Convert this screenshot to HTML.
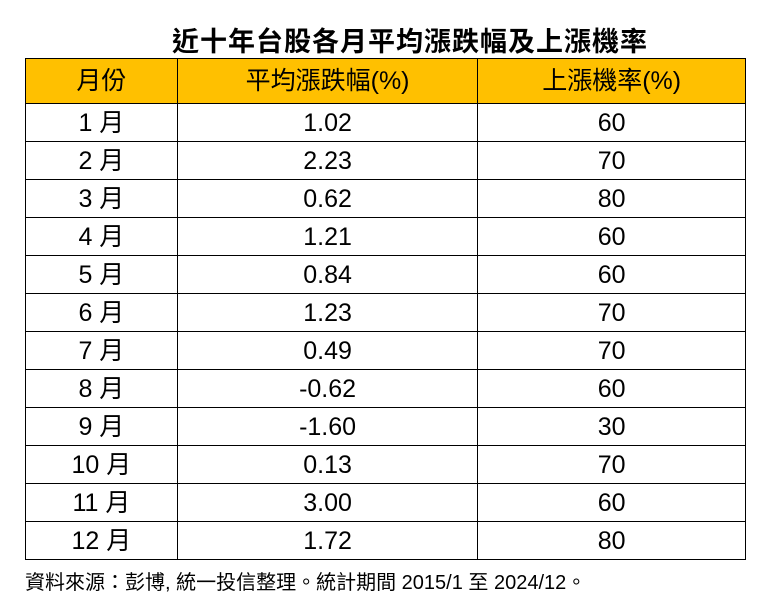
<!DOCTYPE html>
<html><head><meta charset="utf-8"><style>
body{margin:0;background:#fff;width:768px;height:611px;position:relative;overflow:hidden;font-family:"Liberation Sans","Noto Sans CJK TC",sans-serif;}
.t{position:absolute;left:0;width:820px;text-align:center;top:20px;font-size:27px;font-weight:bold;color:#000;letter-spacing:1px;}
table{position:absolute;left:25px;top:58px;border-collapse:collapse;width:721px;}
td{border:1.5px solid #000;text-align:center;font-size:25px;height:37px;padding:0;line-height:36px;}
tr.h td{background:#ffc000;height:44px;}
.f{position:absolute;left:25px;top:566px;font-size:20px;}
</style></head><body>
<div class="t">近十年台股各月平均漲跌幅及上漲機率</div>
<table>
<colgroup><col style="width:152px"><col style="width:301px"><col style="width:268px"></colgroup>
<tr class="h"><td>月份</td><td>平均漲跌幅(%)</td><td>上漲機率(%)</td></tr>
<tr><td>1 月</td><td>1.02</td><td>60</td></tr>
<tr><td>2 月</td><td>2.23</td><td>70</td></tr>
<tr><td>3 月</td><td>0.62</td><td>80</td></tr>
<tr><td>4 月</td><td>1.21</td><td>60</td></tr>
<tr><td>5 月</td><td>0.84</td><td>60</td></tr>
<tr><td>6 月</td><td>1.23</td><td>70</td></tr>
<tr><td>7 月</td><td>0.49</td><td>70</td></tr>
<tr><td>8 月</td><td>-0.62</td><td>60</td></tr>
<tr><td>9 月</td><td>-1.60</td><td>30</td></tr>
<tr><td>10 月</td><td>0.13</td><td>70</td></tr>
<tr><td>11 月</td><td>3.00</td><td>60</td></tr>
<tr><td>12 月</td><td>1.72</td><td>80</td></tr>
</table>
<div class="f">資料來源：彭博, 統一投信整理。統計期間 2015/1 至 2024/12。</div>
</body></html>
